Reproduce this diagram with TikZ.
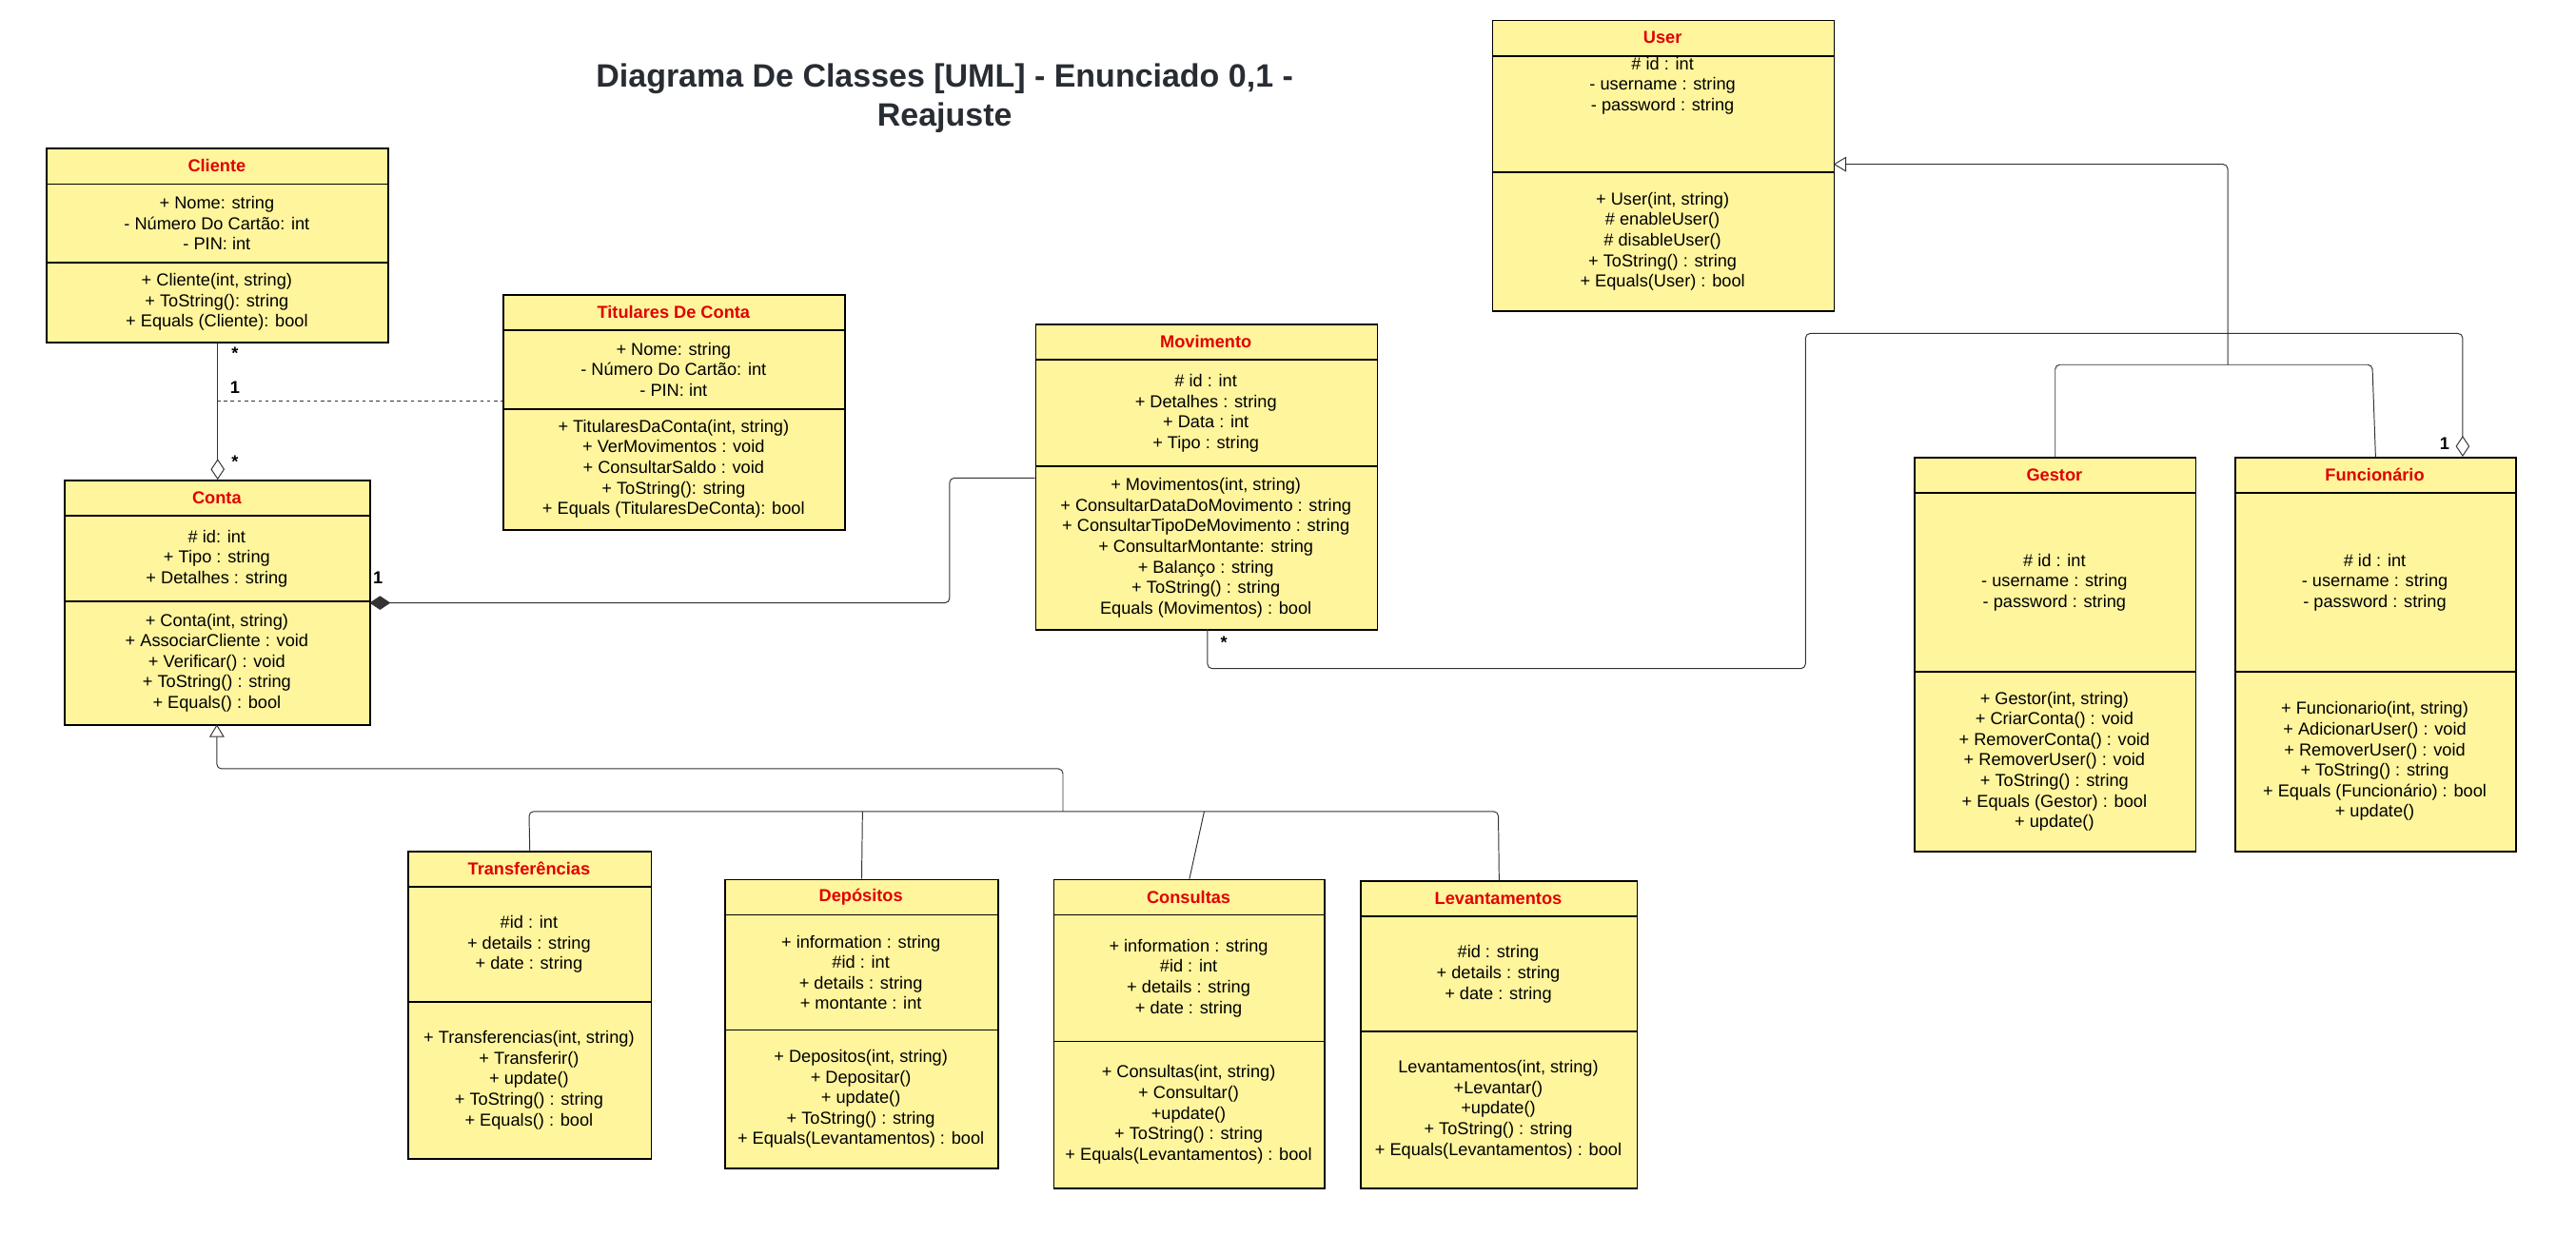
\documentclass[tikz,border=0pt]{standalone}
\usepackage{fontspec}
\setmainfont{Liberation Sans}
\usetikzlibrary{arrows.meta}
\usetikzlibrary{calc}
\usetikzlibrary{shapes}

\definecolor{boxfill}{HTML}{FFF59D}
\definecolor{headred}{HTML}{E00000}
\definecolor{titlegray}{HTML}{282C33}

% class box: name, x0, y0, x1, y1, header bottom, divider, title, attributes, methods
\newcommand{\umlbox}[9]{%
  \node [box_style, anchor=north west, minimum width={(#4-#2)*0.05cm},
         minimum height={(#5-#3)*0.05cm}] (#1) at (#2,#3) {};
  \draw [line width=1.4pt] (#2,#6) -- (#4,#6);
  \draw [line width=1.4pt] (#2,#7) -- (#4,#7);
  \node [head_style] (#1-title) at ({(#2+#4)/2},{(#3+#6)/2}) {#8};
  \umlboxrest{#1}{#2}{#4}{#5}{#6}{#7}{#9}}
\newcommand{\umlboxrest}[7]{%
  \node [text_style] (#1-attr) at ({(#2+#3)/2},{(#5+#6)/2}) {#7};
  \umlboxmeth{#1}{#2}{#3}{#4}{#6}}
\newcommand{\umlboxmeth}[6]{%
  \node [text_style] (#1-meth) at ({(#2+#3)/2},{(#5+#4)/2}) {#6};}

\begin{document}
\begin{tikzpicture}[x=0.05cm, y=-0.05cm,
        box_style/.style={draw=black, line width=1.4pt, fill=boxfill, inner sep=0pt},
        head_style/.style={text=headred, font=\fontsize{15}{18}\selectfont\bfseries},
        text_style/.style={align=center, font=\fontsize{15}{17.8}\selectfont},
        label_style/.style={font=\fontsize{15}{18}\selectfont\bfseries},
        edge_style/.style={draw=black!80, line width=0.8pt, rounded corners=4pt},
        inherit_style/.style={edge_style, {Triangle[open, length=11pt, width=13pt]}-},
        aggr_style/.style={edge_style, {Diamond[open, length=18pt, width=12pt]}-},
        comp_style/.style={edge_style, {Diamond[length=18pt, width=12pt]}-}]

    \useasboundingbox (0,0) rectangle (1568,752);

    \node [font=\fontsize{28}{34}\selectfont\bfseries, text=titlegray, align=center]
        (title) at (575,60) {Diagrama De Classes [UML] - Enunciado 0,1 -\\Reajuste};

    \umlbox{user}{908}{12}{1116}{189}{34}{105}{User}
        {\# id : int\\- username : string\\- password : string\\[2.3em]}
        {+ User(int, string)\\\# enableUser()\\\# disableUser()\\+ ToString() : string\\+ Equals(User) : bool}

    \umlbox{cliente}{28}{90}{236}{208}{112}{160}{Cliente}
        {+ Nome: string\\- Número Do Cartão: int\\- PIN: int}
        {+ Cliente(int, string)\\+ ToString(): string\\+ Equals (Cliente): bool}

    \umlbox{titulares}{306}{179}{514}{322}{201}{249}{Titulares De Conta}
        {+ Nome: string\\- Número Do Cartão: int\\- PIN: int}
        {+ TitularesDaConta(int, string)\\+ VerMovimentos : void\\+ ConsultarSaldo : void\\+ ToString(): string\\+ Equals (TitularesDeConta): bool}

    \umlbox{movimento}{630}{197}{838}{383}{219}{284}{Movimento}
        {\# id : int\\+ Detalhes : string\\+ Data : int\\+ Tipo : string}
        {+ Movimentos(int, string)\\+ ConsultarDataDoMovimento : string\\+ ConsultarTipoDeMovimento : string\\+ ConsultarMontante: string\\+ Balanço : string\\+ ToString() : string\\Equals (Movimentos) : bool}

    \umlbox{conta}{39}{292}{225}{441}{314}{366}{Conta}
        {\# id: int\\+ Tipo : string\\+ Detalhes : string}
        {+ Conta(int, string)\\+ AssociarCliente : void\\+ Verificar() : void\\+ ToString() : string\\+ Equals() : bool}

    \umlbox{gestor}{1165}{278}{1336}{518}{300}{409}{Gestor}
        {\# id : int\\- username : string\\- password : string}
        {+ Gestor(int, string)\\+ CriarConta() : void\\+ RemoverConta() : void\\+ RemoverUser() : void\\+ ToString() : string\\+ Equals (Gestor) : bool\\+ update()}

    \umlbox{funcionario}{1360}{278}{1531}{518}{300}{409}{Funcionário}
        {\# id : int\\- username : string\\- password : string}
        {+ Funcionario(int, string)\\+ AdicionarUser() : void\\+ RemoverUser() : void\\+ ToString() : string\\+ Equals (Funcionário) : bool\\+ update()}

    \umlbox{transf}{248}{518}{396}{705}{540}{610}{Transferências}
        {\#id : int\\+ details : string\\+ date : string}
        {+ Transferencias(int, string)\\+ Transferir()\\+ update()\\+ ToString() : string\\+ Equals() : bool}

    \umlbox{depositos}{441}{535}{607}{711}{557}{627}{Depósitos}
        {+ information : string\\\#id : int\\+ details : string\\+ montante : int}
        {+ Depositos(int, string)\\+ Depositar()\\+ update()\\+ ToString() : string\\+ Equals(Levantamentos) : bool}

    \umlbox{consultas}{641}{535}{806}{723}{557}{634}{Consultas}
        {+ information : string\\\#id : int\\+ details : string\\+ date : string}
        {+ Consultas(int, string)\\+ Consultar()\\+update()\\+ ToString() : string\\+ Equals(Levantamentos) : bool}

    \umlbox{levant}{828}{536}{996}{723}{558}{628}{Levantamentos}
        {\#id : string\\+ details : string\\+ date : string}
        {Levantamentos(int, string)\\+Levantar()\\+update()\\+ ToString() : string\\+ Equals(Levantamentos) : bool}

    % cliente - conta
    \coordinate (cliDash) at (132,244);
    \draw [aggr_style] (conta.north -| cliente.south) -- (cliente.south -| conta.north);
    \draw [edge_style, dashed] (cliDash) -- (titulares.west |- cliDash);
    \node [label_style] at (143,215) {*};
    \node [label_style] at (143,281) {*};
    \node [label_style] at (143,236) {1};

    % conta - movimento
    \draw [comp_style] (225,367) -- (578,367) -- (578,291) -- (movimento.west |- 0,291);
    \node [label_style] at (230,352) {1};

    % conta inheritance
    \coordinate (contaBus) at (647,494);
    \draw [inherit_style] (132,441) -- (132,468) -- (647,468) -- (contaBus);
    \draw [edge_style] (transf.north) -- (322,494) -- (912,494) -- (levant.north);
    \draw [edge_style] (525,494) -- (depositos.north);
    \draw [edge_style] (733,494) -- (consultas.north);

    % user inheritance
    \draw [inherit_style] (1116,100) -- (1356,100) -- (1356,222);
    \draw [edge_style] (gestor.north) -- (1251,222) -- (1444,222) -- (funcionario.north);

    % movimento - funcionario
    \draw [aggr_style] (1499,278) -- (1499,203) -- (1099,203) -- (1099,407) -- (735,407) -- (735,383);
    \node [label_style] at (745,391) {*};
    \node [label_style] at (1488,270) {1};
\end{tikzpicture}
\end{document}
